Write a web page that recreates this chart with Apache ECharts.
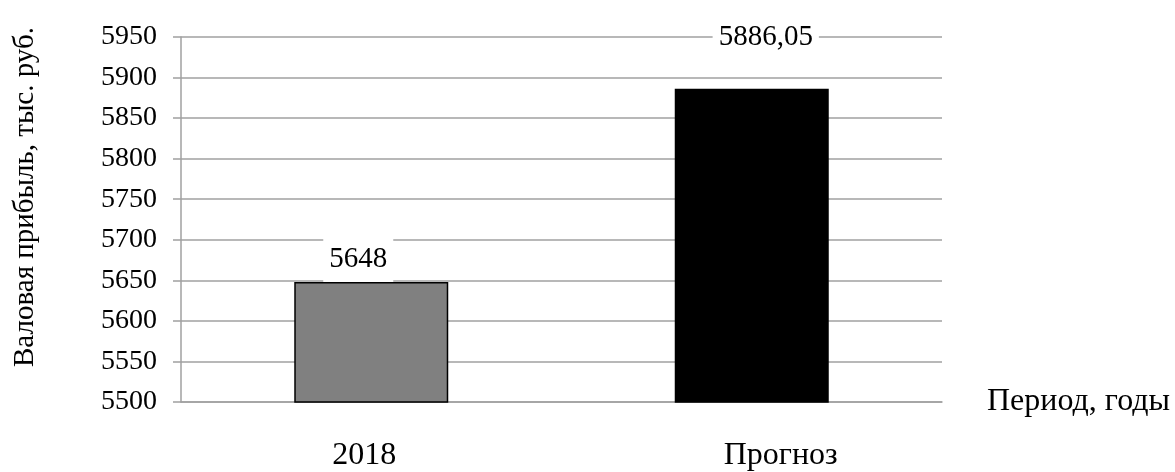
<!DOCTYPE html>
<html>
<head>
<meta charset="utf-8">
<script src="https://cdn.jsdelivr.net/npm/echarts@6/dist/echarts.min.js"></script>
<style>
  html, body { margin: 0; padding: 0; background: #fff; }
  #chart { width: 1175px; height: 472px; }
</style>
</head>
<body>
<div id="chart"></div>
<script>
// данные
var periods = ['2018', 'Прогноз']
var profit = [5648, 5886.05]
var profitLabels = ['5648', '5886,05']
var barColors = ['#808080', '#000000']

var serif = '"Liberation Serif", "Times New Roman", serif'

var option = {
  animation: false,
  backgroundColor: '#ffffff',
  grid: {
    left: 181,
    right: 233,
    top: 37,
    bottom: 69
  },
  graphic: [
    {
      type: 'text',
      x: 25,
      y: 197,
      rotation: Math.PI / 2,
      style: {
        text: 'Валовая прибыль, тыс. руб.',
        font: '29px ' + serif,
        fill: '#000',
        align: 'center',
        verticalAlign: 'middle'
      }
    }
  ],
  xAxis: {
    type: 'category',
    data: periods,
    name: 'Период, годы',
    nameLocation: 'end',
    nameGap: 45,
    nameTextStyle: { color: '#000', fontFamily: serif, fontSize: 32 },
    axisLine: { lineStyle: { color: '#a0a0a0', width: 1.5 } },
    axisTick: { show: false },
    axisLabel: {
      color: '#000',
      fontFamily: serif,
      fontSize: 32,
      margin: 38,
      // подписи в оригинале немного смещены
      formatter: function (v, i) {
        return i === 0 ? '{a|' + v + '}' : '{b|' + v + '}'
      },
      rich: {
        a: { fontFamily: serif, fontSize: 32, color: '#000', padding: [0, 14, 0, 0] },
        b: { fontFamily: serif, fontSize: 32, color: '#000', padding: [0, 0, 0, 58] }
      }
    }
  },
  yAxis: {
    type: 'value',
    min: 5500,
    max: 5950,
    interval: 50,
    axisLine: { show: true, lineStyle: { color: '#a0a0a0', width: 1.5 } },
    axisTick: { show: true, length: 8, lineStyle: { color: '#a0a0a0', width: 1.5 } },
    axisLabel: {
      color: '#000',
      fontFamily: serif,
      fontSize: 28,
      margin: 24,
      formatter: function (v) { return String(v) }
    },
    splitLine: { lineStyle: { color: '#a0a0a0', width: 1.5 } }
  },
  series: [
    {
      type: 'bar',
      barWidth: 154,
      data: profit.map(function (v, i) {
        return {
          value: v,
          itemStyle: { color: barColors[i], borderColor: '#000', borderWidth: 1.5 },
          label: {
            show: true,
            position: 'top',
            distance: i === 0 ? 0 : 28,
            offset: i === 0 ? [-13, 0] : [14, 0],
            formatter: profitLabels[i],
            color: '#000',
            fontFamily: serif,
            fontSize: 29,
            lineHeight: 30,
            backgroundColor: '#fff',
            padding: [8, 6, 8, 6]
          }
        }
      })
    }
  ]
}

var chart = echarts.init(document.getElementById('chart'))
chart.setOption(option)
window.addEventListener('resize', function () {
  chart.resize()
})
</script>
</body>
</html>
